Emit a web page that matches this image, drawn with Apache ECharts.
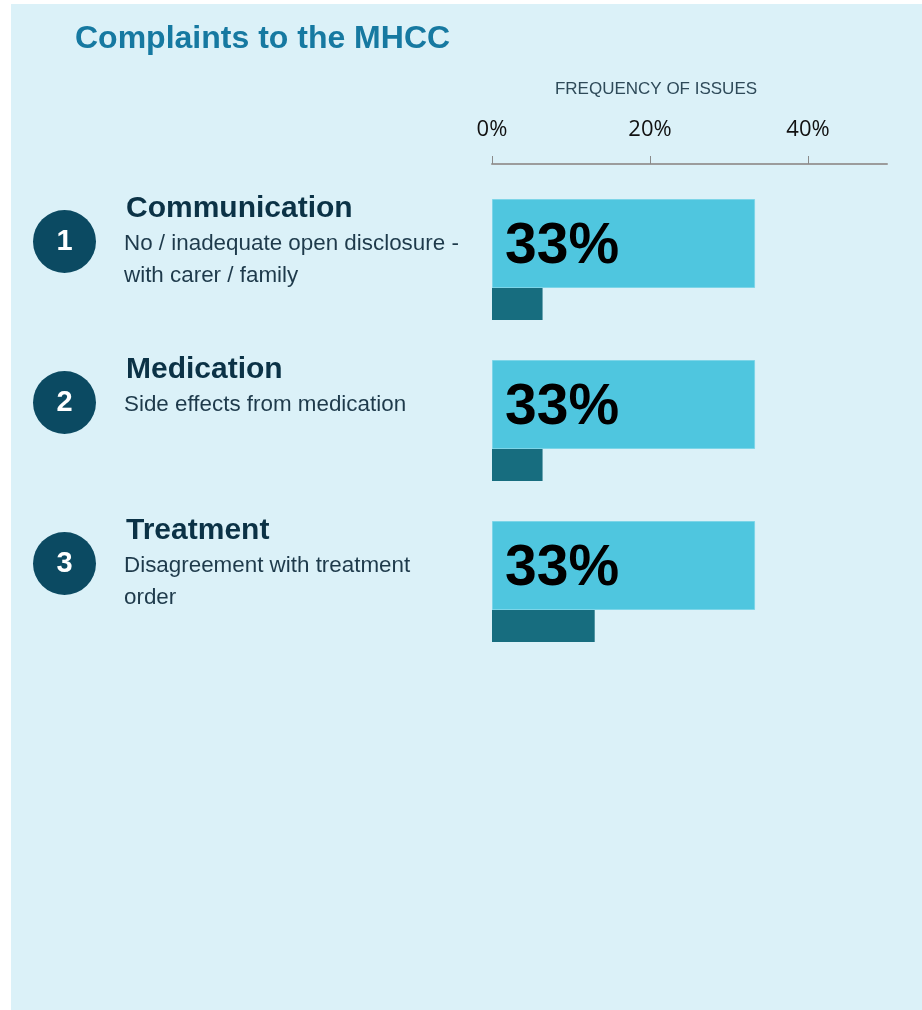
<!DOCTYPE html>
<html><head><meta charset="utf-8">
<script src="https://cdn.jsdelivr.net/npm/echarts@6/dist/echarts.min.js"></script>
<style>html,body{margin:0;padding:0;background:#fff}
#wrap{position:relative;width:922px;height:1010px;background:#fff}
#panel{position:absolute;left:11px;top:4px;right:0;bottom:0;background:#DBF1F8}
#c{position:absolute;left:0;top:0;width:922px;height:1010px}</style>
</head><body><div id="wrap"><div id="panel"></div><div id="c"></div></div>
<script>
const chartTitle = 'Complaints to the MHCC';
const axisTitle = 'FREQUENCY OF ISSUES';
const categories = ['Communication', 'Medication', 'Treatment'];
const descriptions = ['No / inadequate open disclosure -\nwith carer / family', 'Side effects from medication', 'Disagreement with treatment\norder'];
const ranks = ['1', '2', '3'];
const mainValues = [33.3, 33.3, 33.3];
const secondaryValues = [6.4, 6.4, 13];
const tickValues = [0, 20, 40];
const tickLabels = ['0%', '20%', '40%'];

const chart = echarts.init(document.getElementById('c'), null, {renderer: 'canvas'});
chart.setOption({
  animation: false,
  grid: {left: 492, right: 35, top: 179, height: 483},
  xAxis: {
    type: 'value', position: 'top', min: 0, max: 50, offset: 15,
    axisLine: {show: true, lineStyle: {color: '#9c9c9c', width: 2}},
    axisTick: {show: true, length: 8, customValues: tickValues, lineStyle: {color: '#8a8a8a', width: 1}},
    axisLabel: {customValues: tickValues, formatter: v => tickLabels[tickValues.indexOf(v)], margin: 23,
      fontFamily: 'Open Sans', fontSize: 22, color: '#111'},
    splitLine: {show: false}
  },
  yAxis: {type: 'category', data: categories, inverse: true,
    axisLine: {show: false}, axisTick: {show: false}, axisLabel: {show: false}, splitLine: {show: false}},
  series: [
    {type: 'bar', data: mainValues, barWidth: 89, barGap: 0,
      itemStyle: {color: '#4FC6DF', borderColor: '#7DD5E8', borderWidth: 1},
      label: {show: true, position: 'insideLeft', distance: 13, offset: [0, 4], formatter: p => Math.round(p.value) + '%',
        fontFamily: 'Liberation Sans', fontWeight: 'bold', fontSize: 57, color: '#000'}},
    {type: 'bar', data: secondaryValues, barWidth: 32, itemStyle: {color: '#176D7F'}}
  ]
});

const els = [
  {type: 'text', x: 75, y: 39, style: {text: chartTitle, font: 'bold 32px "Liberation Sans"', fill: '#1679A1', verticalAlign: 'middle'}},
  {type: 'text', x: 656, y: 89, style: {text: axisTitle, font: '17px "Liberation Sans"', fill: '#2E4A59', align: 'center', verticalAlign: 'middle'}}
];
categories.forEach((c, i) => {
  const cy = chart.convertToPixel({yAxisIndex: 0}, i);
  els.push({type: 'circle', shape: {cx: 64.5, cy: cy - 18, r: 31.5}, style: {fill: '#0B4A62'}});
  els.push({type: 'text', x: 64.5, y: cy - 18, style: {text: ranks[i], font: 'bold 29px "Liberation Sans"', fill: '#fff', align: 'center', verticalAlign: 'middle'}});
  els.push({type: 'text', x: 126, y: cy - 51, style: {text: c, font: 'bold 30px "Liberation Sans"', fill: '#0B3246', verticalAlign: 'middle'}});
  els.push({type: 'text', x: 124, y: cy - 32, style: {text: descriptions[i], font: '22.4px "Liberation Sans"', fill: '#1E3A4B', lineHeight: 32, verticalAlign: 'top'}});
});
chart.setOption({graphic: {elements: els}});
</script></body></html>
